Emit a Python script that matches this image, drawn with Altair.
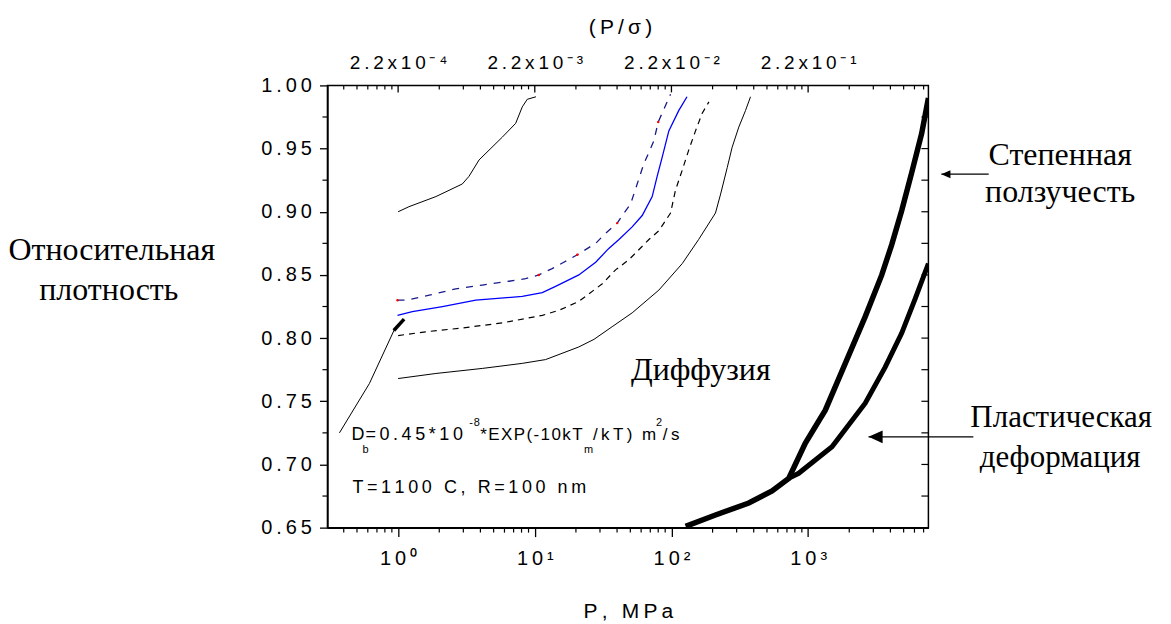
import altair as alt
import pandas as pd

SP = "\u2009"   # thin space (imitates the wide letter spacing of the original)
HS = "\u200a"   # hair space

# ---------------- data (P in MPa, relative density) ----------------
a_p = [1.0, 1.20, 1.89, 2.95, 3.30, 3.91, 5.78, 7.25, 8.10, 8.81, 10.2]
a_d = [0.900, 0.904, 0.912, 0.922, 0.928, 0.941, 0.959, 0.970, 0.983, 0.989, 0.991]

b_p = [0.99, 1.14, 1.69, 2.64, 4.13, 6.48, 8.58, 10.7, 13.4, 16.3, 20.5, 27.9, 33.0,
       40.1, 43.6, 50.2, 62.8, 68.4, 74.3, 80.0, 98.5]
b_d = [0.830, 0.830, 0.834, 0.839, 0.842, 0.845, 0.847, 0.850, 0.855, 0.860, 0.866,
       0.875, 0.883, 0.891, 0.897, 0.906, 0.938, 0.947, 0.956, 0.971, 0.993]

red_p = [0.99, 10.7, 20.5, 40.1, 80.0]
red_d = [0.830, 0.850, 0.866, 0.891, 0.971]

c_p = [0.99, 1.27, 2.11, 3.70, 8.1, 11.35, 14.2, 21.0, 27.9, 34.8, 41.3, 51.6, 61.1,
       72.3, 78.6, 85.5, 95.7, 113, 130]
c_d = [0.818, 0.821, 0.825, 0.830, 0.833, 0.836, 0.841, 0.850, 0.860, 0.871, 0.878,
       0.888, 0.897, 0.912, 0.928, 0.943, 0.964, 0.980, 0.991]

d_p = [1.0, 1.59, 2.95, 5.78, 11.35, 15.0, 21.0, 31.2, 39.0, 48.8, 68.4, 80.9, 98.5,
       107, 120, 134, 150, 168, 188]
d_d = [0.802, 0.805, 0.808, 0.812, 0.818, 0.822, 0.829, 0.843, 0.854, 0.862, 0.878,
       0.885, 0.899, 0.917, 0.933, 0.949, 0.964, 0.978, 0.987]

e_p = [1.0, 1.89, 4.13, 8.1, 12.0, 21.0, 27.1, 36.8, 51.6, 80.9, 120, 158, 210, 229,
       256, 278, 311, 348, 379]
e_d = [0.768, 0.772, 0.776, 0.780, 0.783, 0.793, 0.799, 0.809, 0.820, 0.838, 0.859,
       0.878, 0.899, 0.914, 0.935, 0.951, 0.967, 0.980, 0.991]

f_p = [0.372, 0.616, 0.96, 1.106]
f_d = [0.725, 0.764, 0.809, 0.815]
f_head_p = [0.93, 1.106]
f_head_d = [0.806, 0.815]

g_p = [127, 210, 368, 545, 721, 955, 1336, 1871, 2618, 3459, 4092, 4842, 5729, 6777,
       7590]
g_d = [0.651, 0.660, 0.6695, 0.679, 0.689, 0.717, 0.743, 0.780, 0.817, 0.850, 0.874,
       0.901, 0.931, 0.962, 0.990]

h_p = [721, 853, 1496, 2618, 3664, 4842, 6068, 7590]
h_d = [0.689, 0.693, 0.714, 0.7485, 0.777, 0.804, 0.831, 0.859]

# annotation arrows (outside / at the right edge of the plot)
arrow1_p = [9440, 20950]
arrow1_d = [0.9297, 0.9297]
arrow2_p = [2767, 16180]
arrow2_d = [0.7219, 0.7219]

# ticks
major_p = [1, 10, 100, 1000]
minor_p = [0.4, 0.5, 0.6, 0.7, 0.8, 0.9, 2, 3, 4, 5, 6, 7, 8, 9,
           20, 30, 40, 50, 60, 70, 80, 90, 200, 300, 400, 500, 600, 700, 800, 900,
           2000, 3000, 4000, 5000, 6000, 7000]
major_d = [0.65, 0.70, 0.75, 0.80, 0.85, 0.90, 0.95, 1.00]
major_d_labels = ["0.65", "0.70", "0.75", "0.80", "0.85", "0.90", "0.95", "1.00"]
minor_d = [0.675, 0.725, 0.775, 0.825, 0.875, 0.925, 0.975]
right_major_d = [0.70, 0.75, 0.80, 0.85, 0.90, 0.95]

bottom_labels = ["10⁰", "10¹", "10²", "10³"]
top_labels = ["2.2x10⁻⁴", "2.2x10⁻³", "2.2x10⁻²", "2.2x10⁻¹"]

# ---------------- layout ----------------
W, H = 602, 443
XDOM = [0.304, 7590]
YDOM = [0.65, 1.0]
SANS = "Liberation Sans"
SERIF = "Liberation Serif"


def spaced(s, sep=SP):
    return sep.join(list(s))


def label_expr(values, labels):
    parts = [f"datum.value == {v} ? '{spaced(l)}'" for v, l in zip(values, labels)]
    return " : ".join(parts) + " : ''"


xs = alt.Scale(type="log", domain=XDOM, nice=False)
ys = alt.Scale(domain=YDOM, nice=False, zero=False)

bottom_axis = alt.Axis(
    orient="bottom", values=major_p, labelExpr=label_expr(major_p, bottom_labels),
    tickSize=9, tickWidth=1.3, tickColor="black", domainColor="black", domainWidth=1.5,
    labelFont=SANS, labelFontSize=20, labelColor="black", labelBaseline="alphabetic",
    labelPadding=28, labelFlush=False, grid=False,
    title=spaced("P, MPa"), titleFont=SANS, titleFontSize=21, titleFontWeight="normal",
    titleColor="black", titleBaseline="alphabetic", titleY=90, titleX=W / 2,
)
top_axis = alt.Axis(
    orient="top", values=major_p, labelExpr=label_expr(major_p, top_labels),
    ticks=False, tickSize=0, domain=False,
    labelFont=SANS, labelFontSize=19, labelColor="black", labelBaseline="alphabetic",
    labelPadding=17, labelFlush=False, grid=False,
    title=spaced("(P/σ)"), titleFont=SANS, titleFontSize=21, titleFontWeight="normal",
    titleColor="black", titleBaseline="alphabetic", titleY=-52, titleX=W / 2 - 8,
)
left_axis = alt.Axis(
    orient="left", values=major_d, labelExpr=label_expr(major_d, major_d_labels),
    tickSize=8, tickWidth=1.3, tickColor="black", domainColor="black", domainWidth=1.5,
    labelFont=SANS, labelFontSize=20, labelColor="black", labelPadding=8,
    labelFlush=False, grid=False, title="",
)


def curve(p, d, color, width, dash=None, axes=False):
    kw = dict(color=color, strokeWidth=width, clip=True)
    if dash:
        kw["strokeDash"] = dash
    df = pd.DataFrame({"P": p, "d": d})
    return alt.Chart(df).mark_line(**kw).encode(
        x=alt.X("P:Q", scale=xs, axis=bottom_axis if axes else None),
        y=alt.Y("d:Q", scale=ys, axis=left_axis if axes else None),
    )


layers = [
    curve(e_p, e_d, "black", 1.0, axes=True),
    curve(a_p, a_d, "black", 1.0),
    curve(d_p, d_d, "black", 1.2, dash=[6, 5]),
    curve(c_p, c_d, "#0000ff", 1.3),
    curve(b_p, b_d, "#1a1a8c", 1.3, dash=[7, 7]),
    curve(f_p, f_d, "black", 1.0),
    curve(f_head_p, f_head_d, "black", 3.5),
    curve(g_p, g_d, "black", 5.5),
    curve(h_p, h_d, "black", 5.0),
]

red = pd.DataFrame({"P": red_p, "d": red_d})
layers.append(
    alt.Chart(red).mark_circle(color="red", size=6, opacity=1).encode(
        x=alt.X("P:Q", scale=xs, axis=None), y=alt.Y("d:Q", scale=ys, axis=None))
)

# ---- inward ticks on top and right, minor outward ticks on bottom and left ----
top_major = pd.DataFrame({"P": major_p})
top_minor = pd.DataFrame({"P": minor_p})
layers.append(
    alt.Chart(top_major).mark_rule(color="black", strokeWidth=1.3).encode(
        x=alt.X("P:Q", scale=xs, axis=top_axis), y=alt.value(0), y2=alt.value(7))
)
layers.append(
    alt.Chart(top_minor).mark_rule(color="black", strokeWidth=1.2).encode(
        x=alt.X("P:Q", scale=xs, axis=None), y=alt.value(0), y2=alt.value(4))
)
layers.append(
    alt.Chart(top_minor).mark_rule(color="black", strokeWidth=1.2).encode(
        x=alt.X("P:Q", scale=xs, axis=None), y=alt.value(H), y2=alt.value(H + 5))
)
left_minor = pd.DataFrame({"d": minor_d})
layers.append(
    alt.Chart(left_minor).mark_rule(color="black", strokeWidth=1.2).encode(
        y=alt.Y("d:Q", scale=ys, axis=None), x=alt.value(0), x2=alt.value(-5))
)
right_ticks = pd.DataFrame({"d": right_major_d + minor_d})
layers.append(
    alt.Chart(right_ticks).mark_rule(color="black", strokeWidth=1.2).encode(
        y=alt.Y("d:Q", scale=ys, axis=None), x=alt.value(W - 7), x2=alt.value(W))
)

# ---- arrows ----
for ap, ad, sz in [(arrow1_p, arrow1_d, 330), (arrow2_p, arrow2_d, 800)]:
    adf = pd.DataFrame({"P": ap, "d": ad})
    layers.append(
        alt.Chart(adf).mark_line(color="black", strokeWidth=1.3).encode(
            x=alt.X("P:Q", scale=xs, axis=None), y=alt.Y("d:Q", scale=ys, axis=None))
    )
    tip = pd.DataFrame({"P": ap[:1], "d": ad[:1]})
    layers.append(
        alt.Chart(tip).mark_point(shape="M0,0L1,-0.45L1,0.45Z", filled=True,
                                  color="black", opacity=1, size=sz).encode(
            x=alt.X("P:Q", scale=xs, axis=None), y=alt.Y("d:Q", scale=ys, axis=None))
    )


# ---- text annotations (pixel positions relative to the plot area) ----
def text(t, x, y, size, font=SERIF, align="center", baseline="middle"):
    return alt.Chart(pd.DataFrame({"t": [t]})).mark_text(
        font=font, fontSize=size, align=align, baseline=baseline, color="black"
    ).encode(x=alt.value(x), y=alt.value(y), text="t:N")


layers += [
    text("Относительная", -216, 165, 32),
    text("плотность", -219, 205, 32),
    text("Степенная", 734, 70, 32),
    text("ползучесть", 734, 107, 32),
    text("Пластическая", 735, 333, 31),
    text("деформация", 734, 373, 31),
    text("Диффузия", 374, 285, 32),
]

db_pieces = [
    ("D", SP, 24, 355, 18),
    ("b", SP, 35, 368, 11),
    ("=0.45*10", SP, 38, 355, 18),
    ("-8", HS, 142, 341, 11),
    ("*EXP(-10kT", HS, 153, 355, 17),
    ("m", SP, 257, 368, 11),
    ("/kT)", SP, 266, 355, 17),
    ("m", SP, 315, 355, 17),
    ("2", SP, 329, 341, 11),
    ("/s", SP, 336, 355, 17),
]
for t, sep, x, y, s in db_pieces:
    layers.append(text(spaced(t, sep), x, y, s, font=SANS, align="left",
                       baseline="alphabetic"))
layers.append(text(spaced("T=1100 C, R=100 nm"), 25, 408, 18, font=SANS,
                   align="left", baseline="alphabetic"))

chart = alt.layer(*layers).resolve_axis(
    x="independent", y="independent"
).properties(
    width=W, height=H,
    autosize=alt.AutoSizeParams(type="none"),
    padding={"left": 320, "top": 77, "right": 235, "bottom": 95},
).configure_view(stroke="black", strokeWidth=1.5)

chart.save("out.html", embed_options={"renderer": "svg", "actions": False})
